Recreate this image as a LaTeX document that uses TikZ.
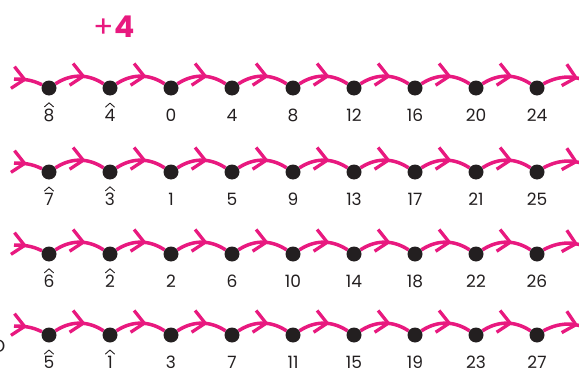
\documentclass[tikz,border=0pt]{standalone}
\usepackage{fontspec}
\setmainfont{Poppins}
\usepackage{tikz}
\usetikzlibrary{arrows.meta,decorations.markings,backgrounds}
\definecolor{hoppink}{HTML}{E8197F}
\definecolor{dotblack}{HTML}{231F20}
\tikzset{
  point/.style={circle,fill=dotblack,inner sep=0pt,minimum size=15pt},
  numlab/.style={anchor=base,font=\fontsize{17}{20}\selectfont,text=dotblack,inner sep=0pt},
  neghat/.style={draw=dotblack,line width=0.9pt,line join=round,line cap=round},
  hop/.style={draw=hoppink,line width=3.5pt,bend left=33,postaction={decorate},
    decoration={markings,mark=at position 0.62 with {\arrow[hoppink,line width=3.3pt]{Straight Barb[length=12pt,width=22pt]}}}},
  hopin/.style={draw=hoppink,line width=3.5pt,postaction={decorate},
    decoration={markings,mark=at position 0.45 with {\arrow[hoppink,line width=3.3pt]{Straight Barb[length=12pt,width=22pt]}}}},
  plusfour/.style={font=\fontsize{30}{34}\selectfont,text=hoppink}
}

\begin{document}
\begin{tikzpicture}[x=1pt,y=1pt]
  \clip (0,0) rectangle (579,368);
  \node[plusfour] (title) at (114,341) {+\textbf{4}};
  \node[font=\fontsize{18}{20}\selectfont\rmfamily,text=dotblack] (cut) at (-1,22) {D};
  % four rows of hops, the first two labels of each row are negative
  \foreach \r/\y/\labs in {1/280/{8,4,0,4,8,12,16,20,24},
                          2/196/{7,3,1,5,9,13,17,21,25},
                          3/114/{6,2,2,6,10,14,18,22,26},
                          4/33/{5,1,3,7,11,15,19,23,27}} {
    \coordinate (r\r in) at (14,\y+9);
    \coordinate (r\r out) at (598,\y);
    \foreach \l [count=\c] in \labs {
      \node[point] (r\r c\c) at (49+61*\c-61,\y) {};
      \node[numlab] (r\r l\c) at ([yshift=-33pt]r\r c\c) {\l};
    }
    \foreach \c in {1,2}
      \draw[neghat] ([xshift=-4.5pt,yshift=1.5pt]r\r l\c.north) -- ++(4.5pt,4pt) -- ++(4.5pt,-4pt);
    \begin{scope}[on background layer]
      \draw[hopin] (r\r in) to[out=0,in=155] (r\r c1);
      \foreach \c [evaluate=\c as \n using int(\c+1)] in {1,...,8}
        \draw[hop] (r\r c\c) to (r\r c\n);
      \draw[hop] (r\r c9) to (r\r out);
    \end{scope}
  }
\end{tikzpicture}
\end{document}
